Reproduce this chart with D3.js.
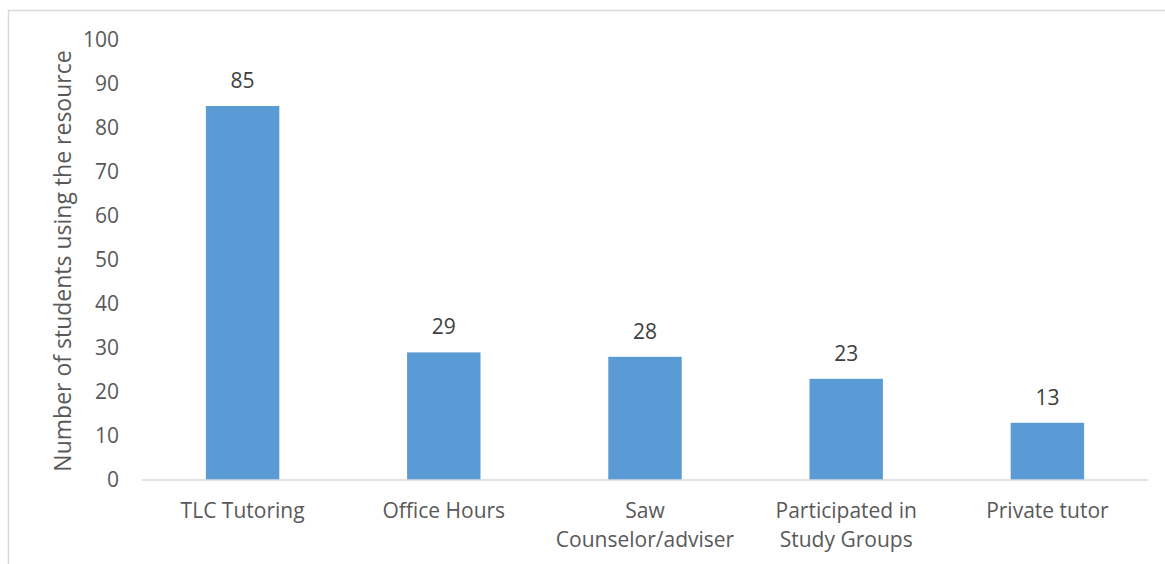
<!DOCTYPE html>
<html>
<head>
<meta charset="utf-8">
<script src="https://cdn.jsdelivr.net/npm/d3@7"></script>
<style>
  body { margin: 0; background: #fff; }
  text { font-family: "Open Sans", sans-serif; fill: #595959; }
</style>
</head>
<body>
<div id="container"></div>
<script>
/* DATA */
const categories = ["TLC Tutoring", "Office Hours", "Saw Counselor/adviser", "Participated in Study Groups", "Private tutor"]
const categoryLines = [["TLC Tutoring"], ["Office Hours"], ["Saw", "Counselor/adviser"], ["Participated in", "Study Groups"], ["Private tutor"]]
const values = [85, 29, 28, 23, 13]
const yTicks = [0, 10, 20, 30, 40, 50, 60, 70, 80, 90, 100]
const yTitle = "Number of students using the resource"

/* CONSTANTS */
const width = 1165,
  height = 564,
  margin = { top: 40, bottom: 84, left: 142, right: 17 };

const svg = d3.select("#container")
  .append("svg")
  .attr("width", width)
  .attr("height", height)

// chart area border
svg.append("rect")
  .attr("x", 8.5)
  .attr("y", 10.5)
  .attr("width", width)
  .attr("height", height)
  .attr("fill", "none")
  .attr("stroke", "#d9d9d9")
  .attr("stroke-width", 1.5)

/* SCALES */
const xScale = d3.scaleBand()
  .domain(categories)
  .range([margin.left, width - margin.right])
  .paddingInner(0.635)
  .paddingOuter(0.3175)

const yScale = d3.scaleLinear()
  .domain([0, 100])
  .range([height - margin.bottom, margin.top])

// y tick labels
svg.selectAll(".ytick")
  .data(yTicks)
  .join("text")
  .attr("class", "ytick")
  .attr("x", 119)
  .attr("y", d => yScale(d))
  .attr("dy", "0.35em")
  .attr("text-anchor", "end")
  .style("font-size", "21px")
  .text(d => d)

// bars
svg.selectAll(".bar")
  .data(values)
  .join("rect")
  .attr("class", "bar")
  .attr("x", (d, i) => xScale(categories[i]))
  .attr("y", d => yScale(d))
  .attr("width", xScale.bandwidth())
  .attr("height", d => yScale(0) - yScale(d))
  .attr("fill", "#5b9bd5")

// baseline
svg.append("line")
  .attr("x1", margin.left)
  .attr("x2", width - margin.right)
  .attr("y1", yScale(0))
  .attr("y2", yScale(0))
  .attr("stroke", "#d9d9d9")
  .attr("stroke-width", 1.5)

// value labels
svg.selectAll(".vlabel")
  .data(values)
  .join("text")
  .attr("class", "vlabel")
  .attr("x", (d, i) => xScale(categories[i]) + xScale.bandwidth() / 2)
  .attr("y", d => yScale(d) - 18)
  .attr("text-anchor", "middle")
  .style("font-size", "21px")
  .style("fill", "#404040")
  .text(d => d)

// category labels
const cat = svg.selectAll(".xlabel")
  .data(categoryLines)
  .join("text")
  .attr("class", "xlabel")
  .attr("x", (d, i) => xScale(categories[i]) + xScale.bandwidth() / 2)
  .attr("y", 518)
  .attr("text-anchor", "middle")
  .style("font-size", "21px")

cat.selectAll("tspan")
  .data(d => d)
  .join("tspan")
  .attr("x", function() { return this.parentNode.getAttribute("x") })
  .attr("dy", (d, i) => i === 0 ? 0 : 29)
  .text(d => d)

// y axis title
svg.append("text")
  .attr("transform", "rotate(-90)")
  .attr("x", -261)
  .attr("y", 71)
  .attr("text-anchor", "middle")
  .style("font-size", "23px")
  .text(yTitle)
</script>
</body>
</html>
